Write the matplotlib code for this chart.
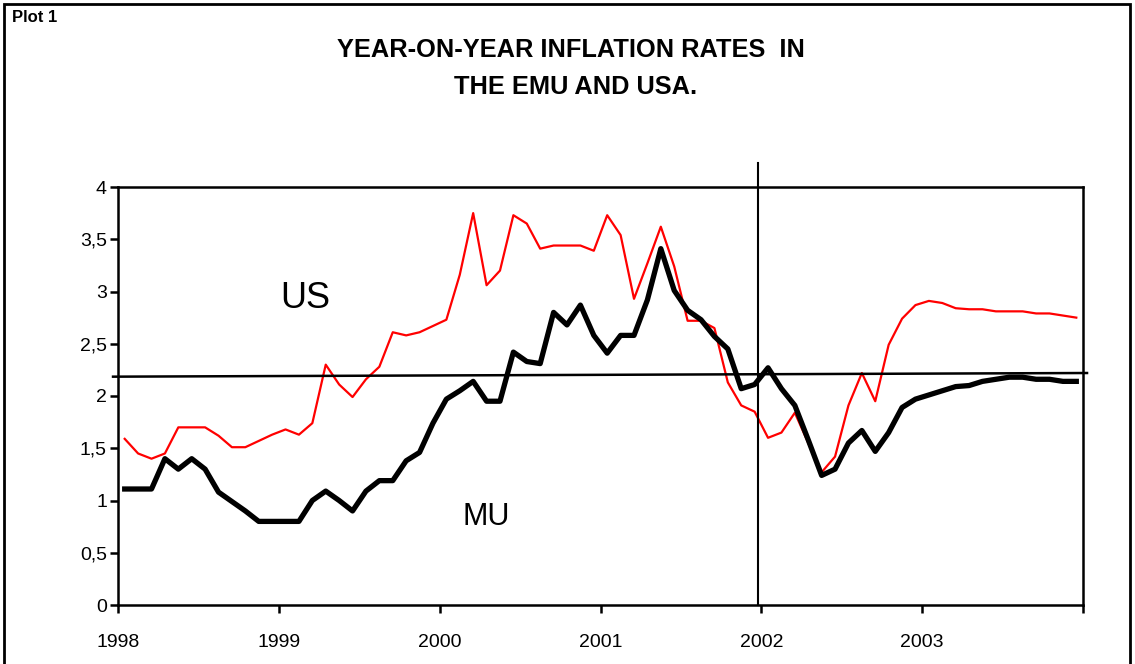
#!/usr/bin/env python3
"""
Year-on-year inflation rates in the EMU and USA, 1998-2003 (monthly).

Redraws "Plot 1" and saves it as out.png.
"""

import matplotlib
matplotlib.use("Agg")
import matplotlib.pyplot as plt
from matplotlib.patches import Rectangle
from matplotlib.ticker import FuncFormatter

# Monthly y-o-y inflation, Jan 1998 .. Dec 2003
us_rate = [
    1.59, 1.45, 1.40, 1.45, 1.70, 1.70, 1.70, 1.62, 1.51, 1.51, 1.57, 1.63,
    1.68, 1.63, 1.74, 2.30, 2.11, 1.99, 2.16, 2.28, 2.61, 2.58, 2.61, 2.67,
    2.73, 3.16, 3.75, 3.06, 3.20, 3.73, 3.65, 3.41, 3.44, 3.44, 3.44, 3.39,
    3.73, 3.54, 2.93, 3.27, 3.62, 3.24, 2.72, 2.72, 2.65, 2.13, 1.91, 1.85,
    1.60, 1.65, 1.84, 1.55, 1.27, 1.42, 1.91, 2.22, 1.95, 2.49, 2.74, 2.87,
    2.91, 2.89, 2.84, 2.83, 2.83, 2.81, 2.81, 2.81, 2.79, 2.79, 2.77, 2.75,
]
emu_rate = [
    1.11, 1.11, 1.11, 1.40, 1.30, 1.40, 1.30, 1.08, 0.99, 0.90, 0.80, 0.80,
    0.80, 0.80, 1.00, 1.09, 1.00, 0.90, 1.09, 1.19, 1.19, 1.38, 1.46, 1.74,
    1.97, 2.05, 2.14, 1.95, 1.95, 2.42, 2.33, 2.31, 2.80, 2.68, 2.87, 2.58,
    2.41, 2.58, 2.58, 2.92, 3.41, 3.01, 2.82, 2.73, 2.57, 2.45, 2.07, 2.11,
    2.27, 2.07, 1.91, 1.58, 1.24, 1.30, 1.55, 1.67, 1.47, 1.65, 1.89, 1.97,
    2.01, 2.05, 2.09, 2.10, 2.14, 2.16, 2.18, 2.18, 2.16, 2.16, 2.14, 2.14,
]
years = ["1998", "1999", "2000", "2001", "2002", "2003"]
y_ticks = [0, 0.5, 1, 1.5, 2, 2.5, 3, 3.5, 4]

# hand-drawn guide lines on the original
ref_line_x = [-0.87, 71.8]
ref_line_y = [2.185, 2.22]
marker_x = 47.25      # vertical line at the start of 2002
marker_top = 4.23

FONT = ["Liberation Sans", "DejaVu Sans"]


def comma(v, _pos):
    """Format tick values with a decimal comma."""
    s = f"{v:g}"
    return s.replace(".", ",")


def main():
    plt.rcParams["font.family"] = FONT

    fig = plt.figure(figsize=(11.35, 6.64), dpi=100)

    # outer frame of the figure
    fig.patches.append(Rectangle((4 / 1135, -0.05), 1126 / 1135, 1.05 - 4 / 664,
                                 transform=fig.transFigure, fill=False,
                                 edgecolor="black", linewidth=2.0))

    ax = fig.add_axes([118 / 1135, 1 - 605 / 664, 965 / 1135, 418 / 664])

    months = list(range(len(us_rate)))
    ax.plot(months, us_rate, color="#ff0000", linewidth=1.6, zorder=3)
    ax.plot(months, emu_rate, color="black", linewidth=3.8, zorder=4)

    ax.plot(ref_line_x, ref_line_y, color="black", linewidth=1.8,
            clip_on=False, zorder=5)
    ax.plot([marker_x, marker_x], [0, marker_top], color="black",
            linewidth=1.5, clip_on=False, zorder=5)

    ax.set_xlim(-0.5, len(us_rate) - 0.5)
    ax.set_ylim(0, 4)

    ax.set_xticks([-0.5 + 12 * i for i in range(len(years) + 1)])
    ax.set_xticklabels(years + [""])
    ax.set_yticks(y_ticks)
    ax.yaxis.set_major_formatter(FuncFormatter(comma))

    ax.tick_params(axis="both", direction="out", length=6, width=1.8,
                   labelsize=14, colors="black")
    ax.tick_params(axis="x", pad=15)
    ax.tick_params(axis="y", pad=2)
    for side in ax.spines.values():
        side.set_linewidth(1.8)
        side.set_color("black")

    ax.text(13.5, 2.93, "US", fontsize=26, ha="center", va="center")
    ax.text(27.0, 0.84, "MU", fontsize=22, ha="center", va="center")

    fig.text(12 / 1135, 1 - 17 / 664, "Plot 1", fontsize=12,
             fontweight="bold", ha="left", va="center")
    fig.text(571 / 1135, 1 - 50 / 664, "YEAR-ON-YEAR INFLATION RATES  IN",
             fontsize=18.3, fontweight="bold", ha="center", va="center")
    fig.text(576 / 1135, 1 - 87 / 664, "THE EMU AND USA.",
             fontsize=18.3, fontweight="bold", ha="center", va="center")

    fig.savefig("out.png", dpi=100)


if __name__ == "__main__":
    main()
